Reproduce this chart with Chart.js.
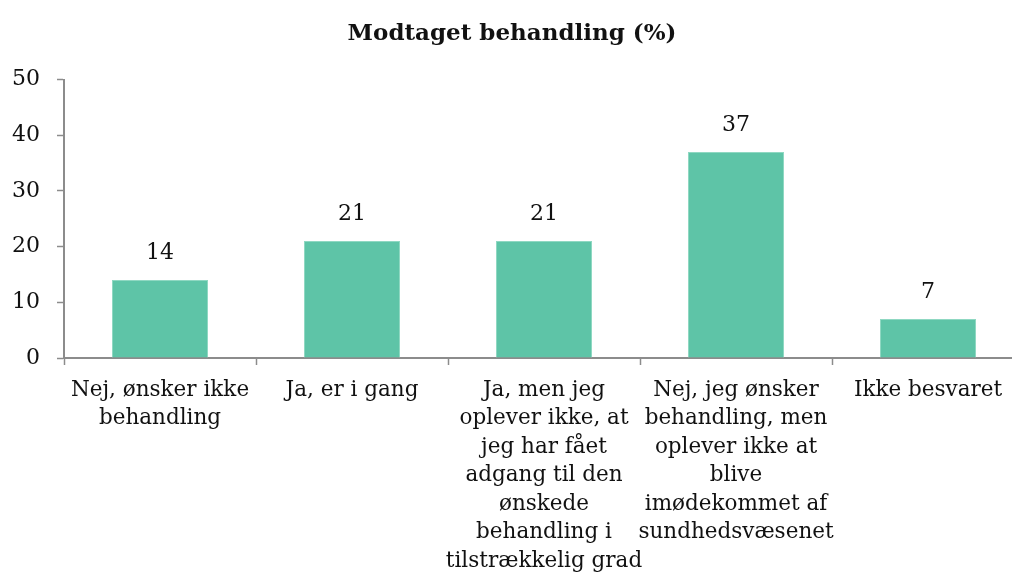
<!DOCTYPE html>
<html>
<head>
<meta charset="utf-8">
<script src="https://cdn.jsdelivr.net/npm/chart.js@4"></script>
<style>
  html, body { margin: 0; padding: 0; background: #fff; overflow: hidden; }
  #wrap { position: absolute; left: 0; top: 0; width: 1024px; height: 576px; }
</style>
</head>
<body>
<div id="wrap"><canvas id="myChart" width="1024" height="576"></canvas></div>
<script>
const chartTitle = "Modtaget behandling (%)";
const categories = [
  ["Nej, ønsker ikke", "behandling"],
  ["Ja, er i gang"],
  ["Ja, men jeg", "oplever ikke, at", "jeg har fået", "adgang til den", "ønskede", "behandling i", "tilstrækkelig grad"],
  ["Nej, jeg ønsker", "behandling, men", "oplever ikke at", "blive", "imødekommet af", "sundhedsvæsenet"],
  ["Ikke besvaret"]
];
const values = [14, 21, 21, 37, 7];
const yTicks = [0, 10, 20, 30, 40, 50];

const fontFamily = "'DejaVu Serif', serif";
const axisGray = "#8c8c8c";

// writes the number above each bar
const valueLabels = {
  id: "valueLabels",
  afterDatasetsDraw(chart) {
    const ctx = chart.ctx;
    const meta = chart.getDatasetMeta(0);
    ctx.save();
    ctx.font = "22px " + fontFamily;
    ctx.fillStyle = "#111";
    ctx.textAlign = "center";
    ctx.textBaseline = "middle";
    meta.data.forEach((bar, i) => {
      ctx.fillText(String(values[i]), bar.x, bar.y - 27);
    });
    ctx.restore();
  }
};

const ctx = document.getElementById("myChart").getContext("2d");
const myChart = new Chart(ctx, {
  type: "bar",
  data: {
    labels: categories,
    datasets: [{
      data: values,
      backgroundColor: "#5ec4a7",
      borderColor: "#8fd8c2",
      borderWidth: 1,
      categoryPercentage: 1,
      barPercentage: 0.5
    }]
  },
  options: {
    responsive: false,
    animation: false,
    layout: { padding: 0 },
    plugins: {
      legend: { display: false },
      tooltip: { enabled: false },
      title: {
        display: true,
        text: chartTitle,
        color: "#111",
        font: { family: fontFamily, size: 23, weight: "bold" },
        padding: { top: 20, bottom: 32 }
      }
    },
    scales: {
      x: {
        offset: true,
        grid: {
          offset: true,
          drawOnChartArea: false,
          tickLength: 7,
          tickWidth: 1.5,
          tickColor: axisGray
        },
        border: { color: axisGray, width: 2 },
        ticks: {
          color: "#111",
          font: { family: fontFamily, size: 21.5, lineHeight: 1.326 },
          maxRotation: 0,
          autoSkip: false,
          padding: 11
        },
        afterFit(scale) { scale.height = 218; }
      },
      y: {
        min: 0,
        max: 50,
        afterBuildTicks(scale) { scale.ticks = yTicks.map(v => ({ value: v })); },
        grid: {
          drawOnChartArea: false,
          tickLength: 7,
          tickWidth: 1.5,
          tickColor: axisGray
        },
        border: { color: axisGray, width: 2 },
        ticks: {
          color: "#111",
          font: { family: fontFamily, size: 22 },
          padding: 17
        },
        afterFit(scale) { scale.width = 64; }
      }
    }
  },
  plugins: [valueLabels]
});
</script>
</body>
</html>
